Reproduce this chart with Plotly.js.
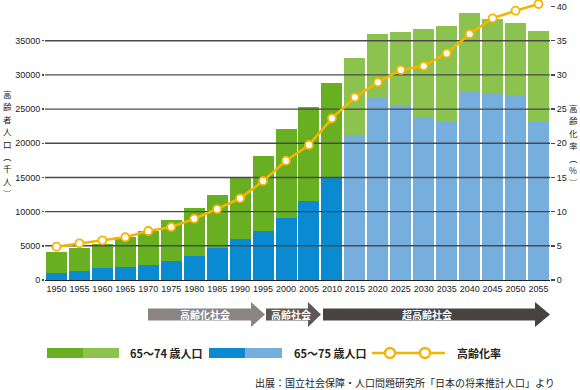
<!DOCTYPE html>
<html><head><meta charset="utf-8">
<script src="https://cdn.plot.ly/plotly-3.0.1.min.js"></script>
<style>html,body{margin:0;padding:0;background:#fff}#chart{width:580px;height:390px}</style>
</head><body><div id="chart"></div>
<script>
// ---- data ----
var years = ['1950','1955','1960','1965','1970','1975','1980','1985','1990','1995','2000','2005','2010','2015','2020','2025','2030','2035','2040','2045','2050','2055'];
var totalElderly = [4139,4724,5265,6245,7211,8776,10575,12476,14875,18180,22042,25347,28858,32427,35937,36317,36712,37151,39008,38175,37634,36420];
var age75plus = [980,1360,1711,1945,2194,2823,3554,4724,5953,7167,9024,11599,15021,21208,26576,25596,23885,23153,27541,27351,27059,23153];
var agingRate = [4.87,5.37,5.81,6.25,7.17,7.75,8.97,10.38,11.95,14.48,17.45,19.75,23.65,26.72,28.92,30.72,31.3,33.16,35.98,38.28,39.39,40.37];
var projectionStart = '2015';
var leftTicks = [0,5000,10000,15000,20000,25000,30000,35000];
var rightTicks = [0,5,10,15,20,25,30,35,40];
var leftTitle = ['高','齢','者','人','口','︵','千','人','︶'];
var rightTitle = ['高','齢','化','率','︵','%','︶'];

// ---- derived ----
var age65to74 = totalElderly.map(function(t,i){return t-age75plus[i];});
var pIdx = years.indexOf(projectionStart);
var blueCols = years.map(function(y,i){return i<pIdx?'#0a8ad0':'#76aedd';});
var greenCols = years.map(function(y,i){return i<pIdx?'#69af22':'#8cc34f';});

// ---- geometry helpers (plot area 45..550 x, 2..280 y) ----
var L=45, R=550, T=2, B=280;
function px(x){return (x-L)/(R-L);}
function py(y){return (B-y)/(B-T);}

var ORANGE='#f5b400', GRID='#4a4a4a';
var tickFont={family:'"Liberation Sans Narrow","Liberation Sans",Arial,sans-serif',size:9,color:'#222'};
var jp='"Noto Sans CJK JP","Noto Sans",sans-serif';

var traces=[
 {type:'bar',x:years,y:age75plus,marker:{color:blueCols,line:{width:0}},xaxis:'x',yaxis:'y',hoverinfo:'skip'},
 {type:'bar',x:years,y:age65to74,marker:{color:greenCols,line:{width:0}},xaxis:'x',yaxis:'y',hoverinfo:'skip'},
 {type:'scatter',mode:'lines+markers',x:years,y:agingRate,xaxis:'x2',yaxis:'y2',cliponaxis:false,
  line:{color:ORANGE,width:2.6},marker:{size:8,color:'#fff',line:{color:ORANGE,width:1.8}},hoverinfo:'skip'}
];

var shapes=[];
rightTicks.slice(1,8).forEach(function(v){
  shapes.push({type:'line',xref:'x2',yref:'y2',x0:-0.6,x1:21.6,y0:v,y1:v,layer:'below',line:{color:GRID,width:1.4}});
});
function arrow(x0,xb,xt,col){
  var yt=308.5,yb=320.5,ht=302,hb=327,ym=314.5;
  return {type:'path',xref:'paper',yref:'paper',fillcolor:col,line:{width:0},
   path:'M'+px(x0)+','+py(yt)+' L'+px(xb)+','+py(yt)+' L'+px(xb)+','+py(ht)+' L'+px(xt)+','+py(ym)+' L'+px(xb)+','+py(hb)+' L'+px(xb)+','+py(yb)+' L'+px(x0)+','+py(yb)+' Z'};
}
shapes.push(arrow(148,251,265,'#8b8484'));
shapes.push(arrow(266,308,321,'#5d5858'));
shapes.push(arrow(323,535,550,'#474343'));
function rect(x0,x1,col){return {type:'rect',xref:'paper',yref:'paper',x0:px(x0),x1:px(x1),y0:py(358),y1:py(348),fillcolor:col,line:{width:0}};}
shapes.push(rect(47,83,'#69af22'),rect(83,119,'#8cc34f'),rect(209,245,'#0a8ad0'),rect(245,282,'#76aedd'));
shapes.push({type:'line',xref:'paper',yref:'paper',x0:px(372),x1:px(445),y0:py(353),y1:py(353),line:{color:ORANGE,width:2.6}});
[390,425].forEach(function(c){
  shapes.push({type:'circle',xref:'paper',yref:'paper',x0:px(c-5),x1:px(c+5),y0:py(358),y1:py(348),fillcolor:'#fff',line:{color:ORANGE,width:2.4}});
});

var ann=[];
function txt(t,x,y,opt){
  var a={text:t,xref:'paper',yref:'paper',x:px(x),y:py(y),showarrow:false,xanchor:'center',yanchor:'middle',
         font:{family:jp,size:11,color:'#222'}};
  for(var k in opt){a[k]=opt[k];}
  return a;
}
var titleFont={family:jp,size:8.5,color:'#222'}, step=12.4;
leftTitle.forEach(function(c,i){ann.push(txt(c,7,94+i*step,{font:titleFont}));});
rightTitle.forEach(function(c,i){ann.push(txt(c,573,108+i*step,{font:titleFont}));});
ann.push(txt('高齢化社会',205,314.5,{font:{family:jp,size:10,color:'#fff',weight:700}}));
ann.push(txt('高齢社会',291,314.5,{font:{family:jp,size:10,color:'#fff',weight:700}}));
ann.push(txt('超高齢社会',427,314.5,{font:{family:jp,size:10,color:'#fff',weight:700}}));
ann.push(txt('65〜74 歳人口',128,353,{xanchor:'left',font:{family:jp,size:11,color:'#222',weight:700}}));
ann.push(txt('65〜75 歳人口',292,353,{xanchor:'left',font:{family:jp,size:11,color:'#222',weight:700}}));
ann.push(txt('高齢化率',455,353,{xanchor:'left',font:{family:jp,size:11,color:'#222',weight:700}}));
ann.push(txt('出展：国立社会保障・人口問題研究所「日本の将来推計人口」より',557,382,{xanchor:'right',font:{family:jp,size:10,color:'#222'}}));

var layout={
  width:580,height:390,margin:{l:L,r:580-R,t:T,b:390-B},
  paper_bgcolor:'#fff',plot_bgcolor:'rgba(0,0,0,0)',
  barmode:'stack',bargap:0.085,showlegend:false,
  xaxis:{type:'category',domain:[0,1],range:[-0.5,21.5],tickfont:tickFont,tickangle:0,ticks:'',showgrid:false,
         showline:true,linecolor:'#222',linewidth:1.4,fixedrange:true,anchor:'y'},
  yaxis:{range:[0,(B-T)/6.837*1000],tickvals:leftTicks,ticktext:leftTicks.map(String),tickfont:tickFont,
         showgrid:false,zeroline:false,ticks:'outside',ticklen:2,tickcolor:GRID,tickwidth:1.4,anchor:'x'},
  xaxis2:{type:'category',domain:[0,1],range:[-0.5,21.5],anchor:'y2',showticklabels:false,showgrid:false,showline:false,ticks:'',zeroline:false},
  yaxis2:{range:[0,(B-T)/6.837],domain:[0,1],anchor:'x2',side:'right',tickvals:rightTicks,tickfont:tickFont,
          showgrid:false,zeroline:false,ticks:'outside',ticklen:4,tickcolor:GRID,tickwidth:1.4},
  shapes:shapes,annotations:ann
};
Plotly.newPlot('chart',traces,layout,{staticPlot:true,displayModeBar:false});
</script></body></html>
